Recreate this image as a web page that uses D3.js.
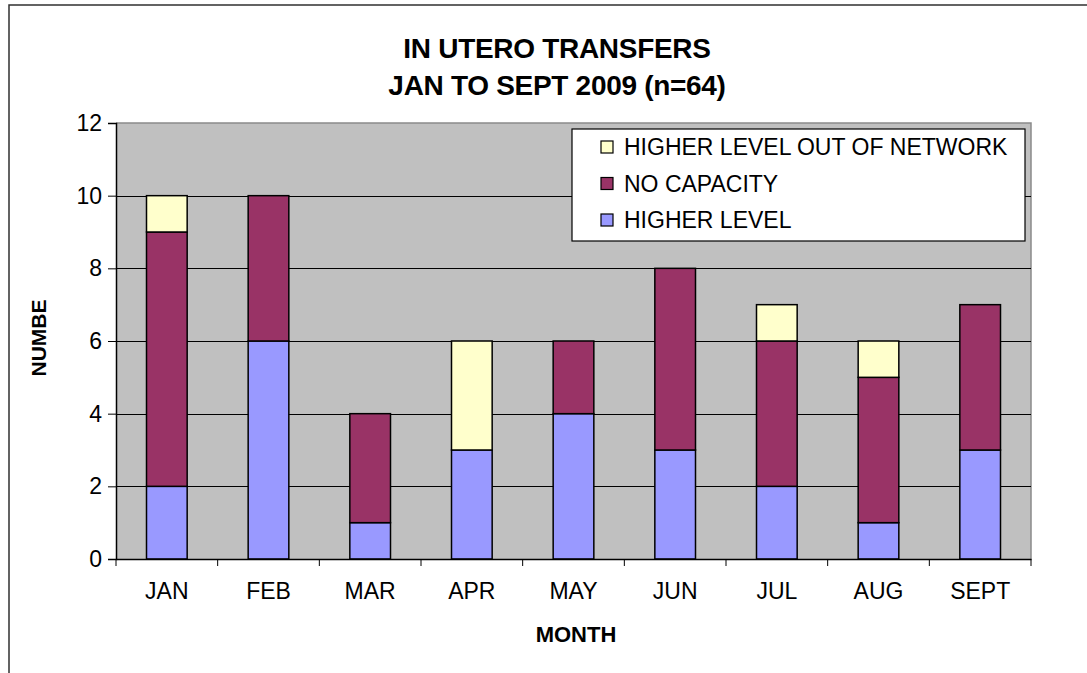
<!DOCTYPE html>
<html>
<head>
<meta charset="utf-8">
<script src="https://cdn.jsdelivr.net/npm/d3@7/dist/d3.min.js"></script>
<style>
  html, body { margin: 0; padding: 0; background: #fff; }
  svg { display: block; }
  text { font-family: "Liberation Sans", Arial, sans-serif; fill: #000; }
</style>
</head>
<body>
<svg id="chart" width="1087" height="673"></svg>
<script>
// ---- data ----
const months = ["JAN", "FEB", "MAR", "APR", "MAY", "JUN", "JUL", "AUG", "SEPT"];
const higherLevel = [2, 6, 1, 3, 4, 3, 2, 1, 3];
const noCapacity = [7, 4, 3, 0, 2, 5, 4, 4, 4];
const outOfNetwork = [1, 0, 0, 3, 0, 0, 1, 1, 0];
const seriesNames = ["HIGHER LEVEL", "NO CAPACITY", "HIGHER LEVEL OUT OF NETWORK"];
const yTicks = [0, 2, 4, 6, 8, 10, 12];
const titleLines = ["IN UTERO TRANSFERS", "JAN TO SEPT 2009 (n=64)"];
const xTitle = "MONTH";
const yTitle = "NUMBE";

// ---- layout ----
const colors = ["#9999FF", "#993366", "#FFFFCC"];
const plot = { left: 116, right: 1031, top: 123, bottom: 559 };
const svg = d3.select("#chart");

// outer frame (extends off the picture right and bottom)
svg.append("rect").attr("x", 9).attr("y", 5).attr("width", 1200).attr("height", 800)
  .attr("fill", "#fff").attr("stroke", "#303030").attr("stroke-width", 1.5);

const x = d3.scaleBand().domain(months).range([plot.left, plot.right])
  .paddingInner(0.6).paddingOuter(0.3);
const xb = d3.scaleBand().domain(months).range([plot.left, plot.right]);
const y = d3.scaleLinear().domain([0, 12]).range([plot.bottom, plot.top]);

// plot background
svg.append("rect").attr("x", plot.left).attr("y", plot.top)
  .attr("width", plot.right - plot.left).attr("height", plot.bottom - plot.top)
  .attr("fill", "#C0C0C0");
// top/right borders
svg.append("path")
  .attr("d", `M${plot.left},${plot.top}H${plot.right}V${plot.bottom}`)
  .attr("fill", "none").attr("stroke", "#8a8a8a").attr("stroke-width", 1.5);

// gridlines
svg.append("g").selectAll("line").data(yTicks.filter(d => d > 0 && d < 12)).join("line")
  .attr("x1", plot.left).attr("x2", plot.right)
  .attr("y1", d => Math.round(y(d)) + 0.5).attr("y2", d => Math.round(y(d)) + 0.5)
  .attr("stroke", "#000").attr("stroke-width", 1);

// stacked bars
const table = months.map((m, i) => ({ month: m, a: higherLevel[i], b: noCapacity[i], c: outOfNetwork[i] }));
const stack = d3.stack().keys(["a", "b", "c"])(table);
svg.append("g").selectAll("g").data(stack).join("g")
  .attr("fill", (d, i) => colors[i])
  .selectAll("rect").data(d => d.filter(p => p[1] > p[0])).join("rect")
  .attr("x", d => x(d.data.month))
  .attr("width", x.bandwidth())
  .attr("y", d => y(d[1]))
  .attr("height", d => y(d[0]) - y(d[1]))
  .attr("stroke", "#000").attr("stroke-width", 1.5);

// y axis
const yAxis = svg.append("g").attr("transform", `translate(${plot.left},0)`)
  .call(d3.axisLeft(y).tickValues(yTicks).tickSize(8).tickPadding(6).tickFormat(d3.format("d")));
yAxis.select(".domain").attr("stroke", "#000").attr("stroke-width", 1.5);
yAxis.selectAll(".tick line").attr("stroke", "#000");
yAxis.selectAll(".tick text").attr("font-size", 23).attr("font-family", "Liberation Sans, Arial, sans-serif").attr("fill", "#000");

// x axis
const xAxis = svg.append("g").attr("transform", `translate(0,${plot.bottom})`)
  .call(d3.axisBottom(xb).tickSize(0).tickPadding(24).tickSizeOuter(0));
xAxis.select(".domain").attr("stroke", "#000").attr("stroke-width", 1.5);
xAxis.selectAll(".tick text").attr("font-size", 23).attr("font-family", "Liberation Sans, Arial, sans-serif").attr("fill", "#000");
// category boundary ticks
const bounds = months.map(m => xb(m)).concat([plot.right]);
xAxis.append("g").selectAll("line").data(bounds).join("line")
  .attr("x1", d => d).attr("x2", d => d).attr("y1", 0).attr("y2", 7)
  .attr("stroke", "#000").attr("stroke-width", 1);

// title
svg.append("g").selectAll("text").data(titleLines).join("text")
  .attr("x", 557).attr("y", (d, i) => 58 + i * 37)
  .attr("text-anchor", "middle").attr("font-size", 28).attr("font-weight", "bold")
  .attr("letter-spacing", -0.3)
  .text(d => d);

// axis titles
svg.append("text").attr("x", 576).attr("y", 642).attr("text-anchor", "middle")
  .attr("font-size", 22).attr("font-weight", "bold").text(xTitle);
svg.append("text").attr("transform", "translate(46,338) rotate(-90)")
  .attr("text-anchor", "middle").attr("font-size", 21).attr("font-weight", "bold").text(yTitle);

// legend
const lg = svg.append("g");
lg.append("rect").attr("x", 572).attr("y", 129).attr("width", 453).attr("height", 112)
  .attr("fill", "#fff").attr("stroke", "#000").attr("stroke-width", 1.2);
const legendOrder = [2, 1, 0];
const rows = lg.selectAll("g.row").data(legendOrder).join("g").attr("class", "row")
  .attr("transform", (d, i) => `translate(601,${147 + i * 36.5})`);
rows.append("rect").attr("x", 0).attr("y", -6).attr("width", 12).attr("height", 12)
  .attr("fill", d => colors[d]).attr("stroke", "#000").attr("stroke-width", 1.2);
rows.append("text").attr("x", 23).attr("y", 8).attr("font-size", 23).text(d => seriesNames[d]);
</script>
</body>
</html>
